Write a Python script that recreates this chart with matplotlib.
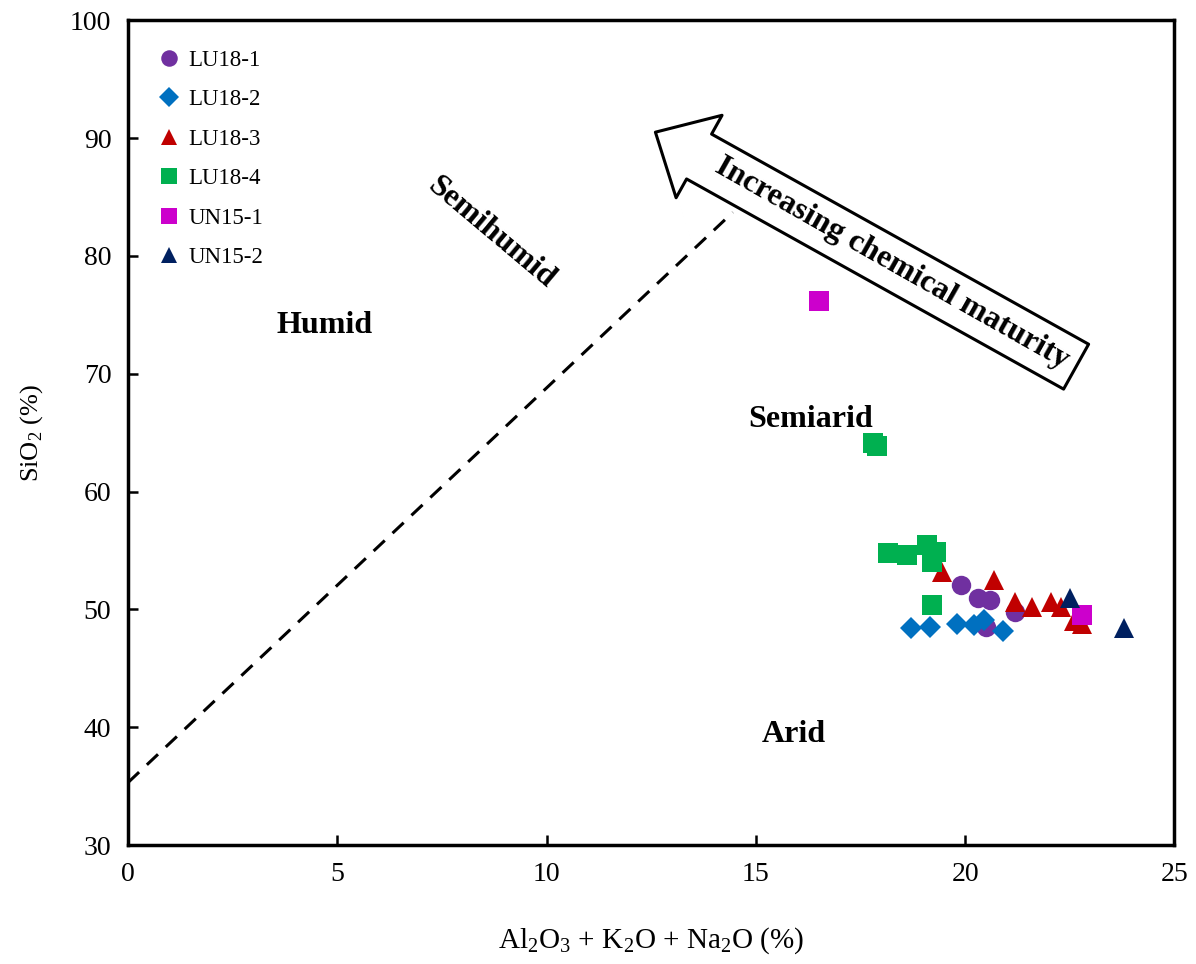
import numpy as np
import matplotlib
matplotlib.use("Agg")
import matplotlib.pyplot as plt

plt.rcParams['font.family'] = ['Liberation Serif', 'DejaVu Serif']
plt.rcParams['mathtext.fontset'] = 'custom'
plt.rcParams['mathtext.rm'] = 'Liberation Serif'

# sample data: x = Al2O3 + K2O + Na2O (%), y = SiO2 (%)
lu18_1_x = [19.9, 20.3, 20.6, 20.5, 21.2]
lu18_1_y = [52.1, 51.0, 50.8, 48.5, 49.8]
lu18_2_x = [18.7, 19.15, 19.8, 20.2, 20.45, 20.9]
lu18_2_y = [48.4, 48.5, 48.8, 48.7, 49.1, 48.2]
lu18_3_x = [19.45, 20.7, 21.2, 21.6, 22.05, 22.3, 22.8, 22.6]
lu18_3_y = [53.2, 52.5, 50.6, 50.2, 50.6, 50.2, 48.8, 49.0]
lu18_4_x = [17.8, 17.9, 18.15, 18.6, 19.1, 19.3, 19.2, 19.2]
lu18_4_y = [64.1, 63.9, 54.8, 54.6, 55.5, 54.9, 54.0, 50.4]
un15_1_x = [16.5, 22.8]
un15_1_y = [76.2, 49.5]
un15_2_x = [22.5, 23.8]
un15_2_y = [51.0, 48.4]

# dashed boundary line between semihumid and semiarid fields
boundary_x = [0.0, 14.45]
boundary_y = [35.3, 83.7]

fig = plt.figure(figsize=(11.96, 9.64), dpi=100)
ax = fig.add_axes([0.107, 0.1234, 0.875, 0.8556])

ax.plot(boundary_x, boundary_y, ls=(0, (5, 3.5)), color='black', lw=2.2)

series = [
    ('LU18-1', lu18_1_x, lu18_1_y, 'o', '#7030A0', 14),
    ('LU18-2', lu18_2_x, lu18_2_y, 'D', '#0070C0', 11.5),
    ('LU18-3', lu18_3_x, lu18_3_y, '^', '#C00000', 14),
    ('LU18-4', lu18_4_x, lu18_4_y, 's', '#00B050', 14),
    ('UN15-1', un15_1_x, un15_1_y, 's', '#CC00CC', 14),
    ('UN15-2', un15_2_x, un15_2_y, '^', '#002060', 14),
]
for name, xs, ys, m, c, ms in series:
    ax.plot(xs, ys, ls='none', marker=m, color=c, markersize=ms,
            markeredgewidth=0, label=name)

ax.set_xlim(0, 25)
ax.set_ylim(30, 100)
ax.set_xticks(np.arange(0, 26, 5))
ax.set_yticks(np.arange(30, 101, 10))
ax.tick_params(labelsize=20, direction='in', length=7, width=1.8, pad=12)
for s in ax.spines.values():
    s.set_linewidth(2.5)

ax.set_xlabel(r'Al$_2$O$_3$ + K$_2$O + Na$_2$O (%)', fontsize=21, labelpad=28)
ax.set_ylabel(r'SiO$_2$ (%)', fontsize=19, labelpad=18)

leg = ax.legend(loc='upper left', frameon=False, fontsize=16.5, markerscale=0.85,
                handletextpad=0.35, labelspacing=0.8, borderaxespad=0.9,
                handlelength=1.0)

# field labels
ax.text(4.7, 74.1, 'Humid', fontsize=23, fontweight='bold', ha='center', va='center')
ax.text(8.67, 82.0, 'Semihumid', fontsize=23, fontweight='bold', ha='center',
        va='center', rotation=-40)
ax.text(16.3, 66.1, 'Semiarid', fontsize=23, fontweight='bold', ha='center', va='center')
ax.text(15.9, 39.35, 'Arid', fontsize=23, fontweight='bold', ha='center', va='center')

# hollow arrow
ax.annotate('', xy=(12.6, 90.5), xytext=(22.65, 70.6),
            arrowprops=dict(arrowstyle='simple,head_length=3.6,head_width=6.8,tail_width=3.7',
                            mutation_scale=10, fc='white', ec='black', lw=2.2,
                            shrinkA=0, shrinkB=0))
ax.text(18.25, 79.4, 'Increasing chemical maturity', fontsize=23, fontweight='bold',
        ha='center', va='center', rotation=-29.5, rotation_mode='anchor')

fig.savefig('out.png', dpi=100)
